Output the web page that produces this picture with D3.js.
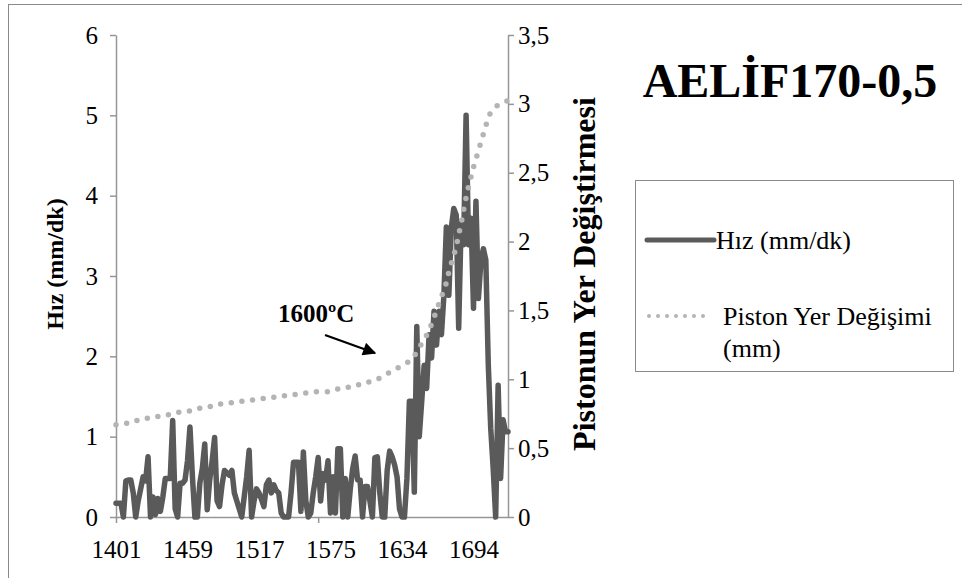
<!DOCTYPE html>
<html>
<head>
<meta charset="utf-8">
<script src="https://cdn.jsdelivr.net/npm/d3@7"></script>
<style>
  html, body { margin: 0; padding: 0; background: #fff; }
  svg { display: block; }
  svg text { font-family: "Liberation Serif", "Times New Roman", serif; }
</style>
</head>
<body>
<svg id="chart" width="962" height="578"></svg>
<script>
// ---- data ----
const chartTitle = "AELİF170-0,5";
const annotationText = "1600ºC";
const seriesNames = ["Hız (mm/dk)", "Piston Yer Değişimi", "(mm)"];
const leftAxisTitle = "Hız (mm/dk)";
const rightAxisTitle = "Pistonun Yer Değiştirmesi";

// temperature labels shown every 29 samples along the category axis
const xTickLabels = ["1401", "1459", "1517", "1575", "1634", "1694"];
const xLabelEvery = 29;
const xTickMarkIndices = [0, 82];

const leftTicks = [0, 1, 2, 3, 4, 5, 6];
const rightTicks = [0, 0.5, 1, 1.5, 2, 2.5, 3, 3.5];

// speed (mm/dk), one value per sample
const hizValues = [
  0.17, 0.17, 0.17, 0.00, 0.45, 0.46, 0.46, 0.30, 0.00, 0.20,
  0.35, 0.50, 0.45, 0.75, 0.00, 0.25, 0.03, 0.23, 0.07, 0.25,
  0.48, 0.48, 0.48, 1.20, 0.10, 0.00, 0.42, 0.42, 0.46, 0.70,
  1.12, 0.50, 0.00, 0.00, 0.42, 0.60, 0.91, 0.09, 0.46, 0.70,
  0.99, 0.20, 0.13, 0.40, 0.58, 0.55, 0.52, 0.58, 0.30, 0.20,
  0.10, 0.00, 0.25, 0.50, 0.83, 0.00, 0.20, 0.35, 0.30, 0.22,
  0.13, 0.40, 0.46, 0.30, 0.40, 0.33, 0.30, 0.05, 0.00, 0.00,
  0.00, 0.30, 0.68, 0.68, 0.68, 0.07, 0.81, 0.20, 0.00, 0.05,
  0.30, 0.50, 0.74, 0.20, 0.54, 0.46, 0.70, 0.05, 0.50, 0.05,
  0.85, 0.85, 0.00, 0.48, 0.00, 0.34, 0.60, 0.76, 0.46, 0.46,
  0.00, 0.38, 0.38, 0.20, 0.00, 0.74, 0.75, 0.30, 0.00, 0.00,
  0.58, 0.82, 0.75, 0.65, 0.50, 0.10, 0.00, 0.00, 0.48, 1.44,
  1.44, 0.31, 2.37, 1.00, 1.44, 1.89, 1.60, 2.27, 1.98, 2.56,
  2.14, 2.56, 2.27, 2.76, 3.61, 2.76, 3.60, 3.84, 3.76, 2.35,
  3.68, 3.39, 5.00, 3.39, 3.72, 2.60, 3.93, 2.72, 3.18, 3.34,
  3.20, 1.90, 1.10, 0.60, 0.00, 1.64, 0.48, 1.21, 1.06, 1.06
];

// piston displacement (mm), secondary axis
const pistonValues = [
  0.67, 0.67, 0.68, 0.68, 0.68, 0.68, 0.69, 0.69, 0.70, 0.70,
  0.70, 0.71, 0.71, 0.72, 0.72, 0.72, 0.73, 0.73, 0.73, 0.74,
  0.74, 0.74, 0.75, 0.75, 0.75, 0.76, 0.76, 0.76, 0.77, 0.77,
  0.77, 0.78, 0.78, 0.78, 0.79, 0.79, 0.80, 0.80, 0.80, 0.81,
  0.81, 0.81, 0.82, 0.82, 0.82, 0.83, 0.83, 0.83, 0.83, 0.84,
  0.84, 0.84, 0.84, 0.85, 0.85, 0.85, 0.85, 0.86, 0.86, 0.86,
  0.86, 0.87, 0.87, 0.87, 0.87, 0.87, 0.88, 0.88, 0.88, 0.88,
  0.89, 0.89, 0.89, 0.89, 0.89, 0.90, 0.90, 0.90, 0.90, 0.90,
  0.90, 0.91, 0.91, 0.91, 0.91, 0.91, 0.91, 0.92, 0.92, 0.92,
  0.93, 0.93, 0.93, 0.94, 0.94, 0.95, 0.95, 0.96, 0.96, 0.96,
  0.97, 0.97, 0.98, 0.98, 0.99, 0.99, 1.00, 1.01, 1.02, 1.03,
  1.04, 1.05, 1.06, 1.07, 1.08, 1.09, 1.10, 1.11, 1.12, 1.13,
  1.15, 1.17, 1.20, 1.23, 1.26, 1.29, 1.32, 1.36, 1.40, 1.45,
  1.50, 1.55, 1.60, 1.65, 1.70, 1.78, 1.84, 1.90, 1.96, 2.05,
  2.13, 2.23, 2.32, 2.40, 2.47, 2.54, 2.60, 2.66, 2.72, 2.78,
  2.84, 2.90, 2.94, 2.96, 2.98, 2.99, 3.00, 3.01, 3.02, 3.02
];

// ---- layout ----
const serif = "'Liberation Serif', 'Times New Roman', serif";
const plot = { left: 116, right: 508, top: 35, bottom: 517 };
const axisColor = "#969696";
const hizColor = "#5a5a5a";
const pistonColor = "#b4b4b4";

const svg = d3.select("#chart");

// chart frame
svg.append("rect")
  .attr("x", 8.5).attr("y", 4.5)
  .attr("width", 1000).attr("height", 1000)
  .attr("fill", "none").attr("stroke", "#8a8a8a").attr("stroke-width", 1);

const x = d3.scaleLinear().domain([0, hizValues.length - 1]).range([plot.left, plot.right]);
const yL = d3.scaleLinear().domain([0, 6]).range([plot.bottom, plot.top]);
const yR = d3.scaleLinear().domain([0, 3.5]).range([plot.bottom, plot.top]);

const commaFmt = v => String(v).replace(".", ",");

function styleAxis(g, size) {
  g.attr("font-family", serif);
  g.selectAll(".domain").attr("stroke", axisColor).attr("stroke-width", 1.5);
  g.selectAll(".tick line").attr("stroke", axisColor).attr("stroke-width", 1.5);
  g.selectAll(".tick text")
    .attr("fill", "#000")
    .style("font-family", serif)
    .style("font-size", size + "px");
}

// left axis
svg.append("g")
  .attr("transform", `translate(${plot.left},0)`)
  .call(d3.axisLeft(yL).tickValues(leftTicks).tickFormat(d3.format("d"))
    .tickSizeInner(6).tickSizeOuter(0).tickPadding(12))
  .call(g => styleAxis(g, 25));

// right axis
svg.append("g")
  .attr("transform", `translate(${plot.right},0)`)
  .call(d3.axisRight(yR).tickValues(rightTicks).tickFormat(commaFmt)
    .tickSizeInner(6).tickSizeOuter(0).tickPadding(4))
  .call(g => styleAxis(g, 25));

// bottom axis: line + tick marks
svg.append("g")
  .attr("transform", `translate(0,${plot.bottom})`)
  .call(d3.axisBottom(x).tickValues(xTickMarkIndices).tickFormat("").tickSizeInner(6).tickSizeOuter(0))
  .call(g => styleAxis(g, 25));

// bottom axis labels
const labelIdx = xTickLabels.map((_, k) => k * xLabelEvery);
svg.append("g")
  .attr("transform", `translate(0,${plot.bottom})`)
  .call(d3.axisBottom(x).tickValues(labelIdx).tickFormat((d, k) => xTickLabels[k]).tickSize(0).tickPadding(23))
  .call(g => { g.select(".domain").remove(); styleAxis(g, 25); });

// series lines
const hizLine = d3.line().x((d, i) => x(i)).y(d => yL(d));
const pistonLine = d3.line().x((d, i) => x(i)).y(d => yR(d));

svg.append("path")
  .datum(hizValues)
  .attr("d", hizLine)
  .attr("fill", "none")
  .attr("stroke", hizColor)
  .attr("stroke-width", 5.5)
  .attr("stroke-linejoin", "round")
  .attr("stroke-linecap", "round");

svg.append("path")
  .datum(pistonValues)
  .attr("d", pistonLine)
  .attr("fill", "none")
  .attr("stroke", pistonColor)
  .attr("stroke-width", 5.5)
  .attr("stroke-linecap", "round")
  .attr("stroke-dasharray", "0 11");

// helper for plain text
function addText(parent, opts) {
  const t = parent.append("text")
    .attr("x", opts.x || 0).attr("y", opts.y || 0)
    .attr("text-anchor", opts.anchor || "start")
    .style("font-family", serif)
    .style("font-size", opts.size + "px")
    .style("font-weight", opts.bold ? "bold" : "normal")
    .attr("fill", "#000")
    .text(opts.text);
  if (opts.transform) t.attr("transform", opts.transform);
  if (opts.dy) t.attr("dy", opts.dy);
  return t;
}

// axis titles
addText(svg, { transform: "translate(63,264) rotate(-90)", anchor: "middle", size: 24, bold: true, text: leftAxisTitle });
addText(svg, { transform: "translate(595,274) rotate(-90)", anchor: "middle", size: 32, bold: true, text: rightAxisTitle });

// chart title
addText(svg, { x: 790, y: 97, anchor: "middle", size: 48, bold: true, text: chartTitle });

// temperature annotation with arrow
svg.append("defs").append("marker")
  .attr("id", "arrowHead")
  .attr("viewBox", "0 0 10 10")
  .attr("refX", 9).attr("refY", 5)
  .attr("markerWidth", 7).attr("markerHeight", 6)
  .attr("markerUnits", "strokeWidth")
  .attr("orient", "auto")
  .append("path").attr("d", "M0,0 L10,5 L0,10 Z").attr("fill", "#000");

addText(svg, { x: 278, y: 322, size: 25, bold: true, text: annotationText });

svg.append("line")
  .attr("x1", 325).attr("y1", 335)
  .attr("x2", 375).attr("y2", 353)
  .attr("stroke", "#000").attr("stroke-width", 2.2)
  .attr("marker-end", "url(#arrowHead)");

// legend
const legend = svg.append("g");
legend.append("rect")
  .attr("x", 635.5).attr("y", 180.5)
  .attr("width", 318).attr("height", 191)
  .attr("fill", "#fff").attr("stroke", "#8a8a8a").attr("stroke-width", 1);

legend.append("line")
  .attr("x1", 647).attr("x2", 714).attr("y1", 240).attr("y2", 240)
  .attr("stroke", hizColor).attr("stroke-width", 5).attr("stroke-linecap", "round");
addText(legend, { x: 716, y: 240, dy: "0.33em", size: 26, text: seriesNames[0] });

legend.append("line")
  .attr("x1", 649).attr("x2", 710).attr("y1", 316).attr("y2", 316)
  .attr("stroke", pistonColor).attr("stroke-width", 4).attr("stroke-linecap", "round")
  .attr("stroke-dasharray", "0 9");
addText(legend, { x: 723, y: 316, dy: "0.33em", size: 26, text: seriesNames[1] });
addText(legend, { x: 723, y: 348, dy: "0.33em", size: 26, text: seriesNames[2] });
</script>
</body>
</html>
